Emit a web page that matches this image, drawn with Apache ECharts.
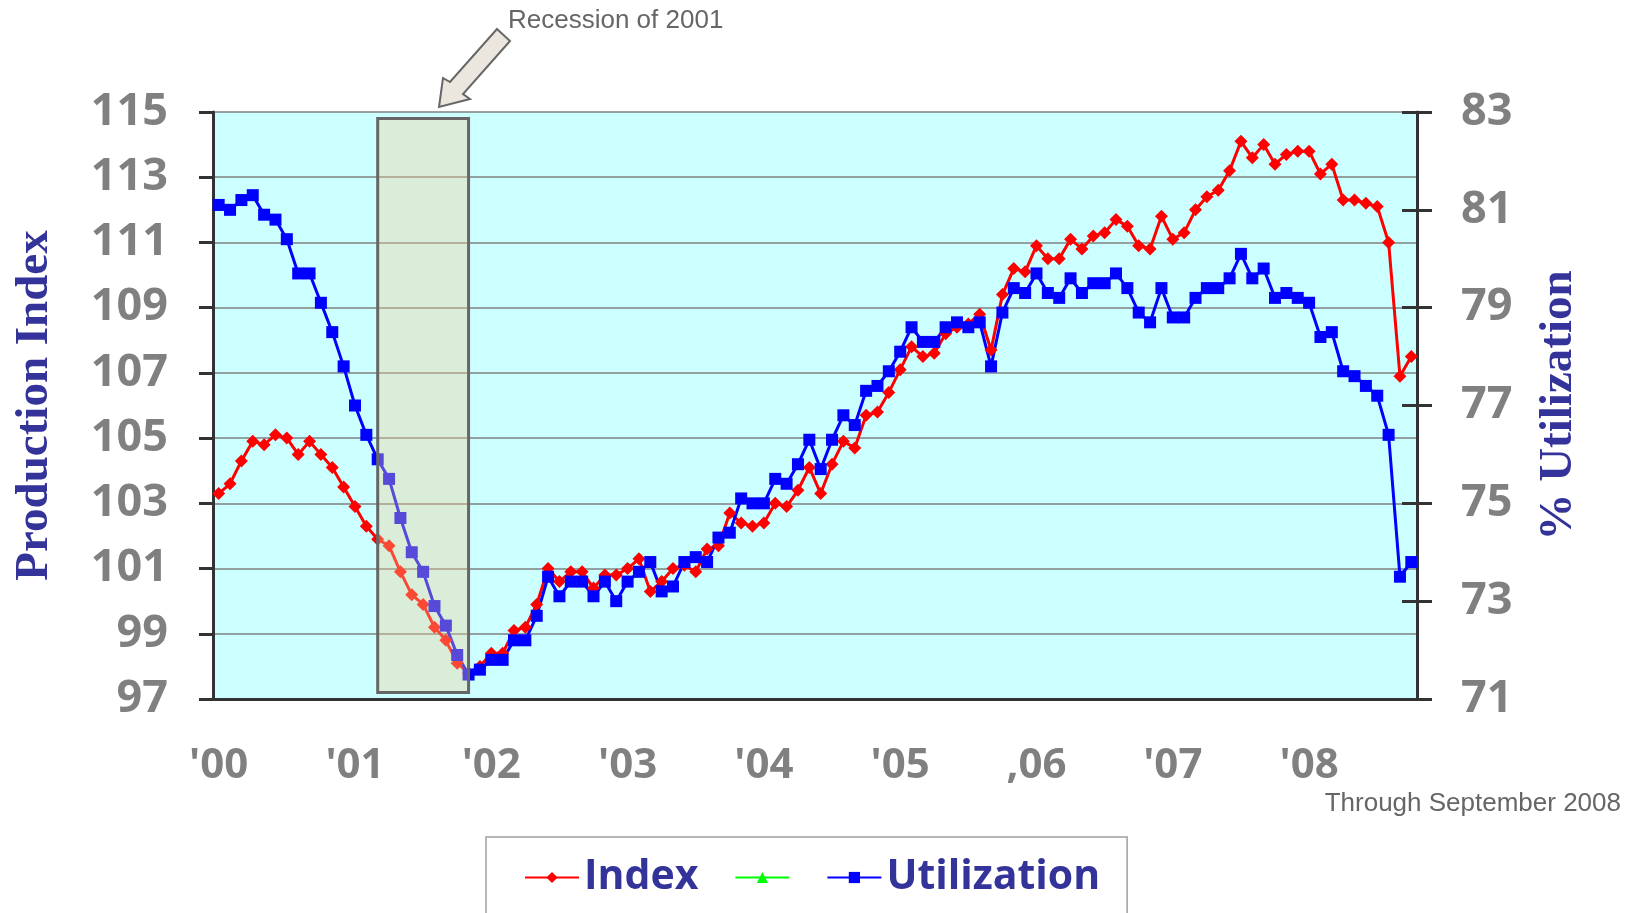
<!DOCTYPE html>
<html>
<head>
<meta charset="utf-8">
<script src="https://cdn.jsdelivr.net/npm/echarts@6/dist/echarts.min.js"></script>
<style>
  html, body { margin: 0; padding: 0; background: #fff; }
  #main { width: 1639px; height: 913px; }
</style>
</head>
<body>
<div id="main"></div>
<script>
// monthly, Jan 2000 .. Oct 2008
var months = [];
for (var y = 2000; y <= 2008; y++) {
    for (var m = 1; m <= 12; m++) {
        if (y === 2008 && m > 10) break;
        months.push(y + '-' + (m < 10 ? '0' + m : m));
    }
}

var yearLabels = ["'00", "'01", "'02", "'03", "'04", "'05", ",06", "'07", "'08"];
var indexTicks = [97, 99, 101, 103, 105, 107, 109, 111, 113, 115];
var utilTicks = [71, 73, 75, 77, 79, 81, 83];

var indexValues = [
    103.3, 103.6, 104.3, 104.9, 104.8, 105.1, 105.0, 104.5, 104.9, 104.5, 104.1, 103.5,
    102.9, 102.3, 101.9, 101.7, 100.9, 100.2, 99.9, 99.2, 98.8, 98.1, 97.8, 98.0,
    98.4, 98.4, 99.1, 99.2, 99.9, 101.0, 100.6, 100.9, 100.9, 100.4, 100.8, 100.8,
    101.0, 101.3, 100.3, 100.6, 101.0, 101.1, 100.9, 101.6, 101.7, 102.7, 102.4, 102.3,
    102.4, 103.0, 102.9, 103.4, 104.1, 103.3, 104.2, 104.9, 104.7, 105.7, 105.8, 106.4,
    107.1, 107.8, 107.5, 107.6, 108.2, 108.4, 108.5, 108.8, 107.7, 109.4, 110.2, 110.1,
    110.9, 110.5, 110.5, 111.1, 110.8, 111.2, 111.3, 111.7, 111.5, 110.9, 110.8, 111.8,
    111.1, 111.3, 112.0, 112.4, 112.6, 113.2, 114.1, 113.6, 114.0, 113.4, 113.7, 113.8,
    113.8, 113.1, 113.4, 112.3, 112.3, 112.2, 112.1, 111.0, 106.9, 107.5
];

var utilValues = [
    81.1, 81.0, 81.2, 81.3, 80.9, 80.8, 80.4, 79.7, 79.7, 79.1, 78.5, 77.8,
    77.0, 76.4, 75.9, 75.5, 74.7, 74.0, 73.6, 72.9, 72.5, 71.9, 71.5, 71.6,
    71.8, 71.8, 72.2, 72.2, 72.7, 73.5, 73.1, 73.4, 73.4, 73.1, 73.4, 73.0,
    73.4, 73.6, 73.8, 73.2, 73.3, 73.8, 73.9, 73.8, 74.3, 74.4, 75.1, 75.0,
    75.0, 75.5, 75.4, 75.8, 76.3, 75.7, 76.3, 76.8, 76.6, 77.3, 77.4, 77.7,
    78.1, 78.6, 78.3, 78.3, 78.6, 78.7, 78.6, 78.7, 77.8, 78.9, 79.4, 79.3,
    79.7, 79.3, 79.2, 79.6, 79.3, 79.5, 79.5, 79.7, 79.4, 78.9, 78.7, 79.4,
    78.8, 78.8, 79.2, 79.4, 79.4, 79.6, 80.1, 79.6, 79.8, 79.2, 79.3, 79.2,
    79.1, 78.4, 78.5, 77.7, 77.6, 77.4, 77.2, 76.4, 73.5, 73.8
];

// recession box: Mar 2001 .. Nov 2001
var recessionStart = '2001-03';
var recessionEnd = '2001-11';

var myChart = echarts.init(document.getElementById('main'));

var labelStyle = {
    fontFamily: 'Open Sans',
    fontWeight: 'bold',
    fontSize: 45,
    color: '#808080'
};
var nameStyle = {
    fontFamily: 'Liberation Serif',
    fontWeight: 'bold',
    fontSize: 47,
    color: '#333399'
};

option = {
    animation: false,
    grid: {
        left: 213,
        right: 222,
        top: 112,
        bottom: 214,
        show: true,
        backgroundColor: '#ccffff',
        borderWidth: 0
    },
    legend: {
        data: ['Index', ' ', 'Utilization'],
        left: 486,
        top: 837,
        padding: [20, 27, 60, 38],
        borderColor: '#a0a0a0',
        borderWidth: 1.5,
        itemGap: 36,
        itemWidth: 54,
        itemHeight: 14,
        formatter: function (name) { return name.trim() ? name : ''; },
        textStyle: {
            fontFamily: 'Open Sans',
            fontWeight: 'bold',
            fontSize: 41,
            color: '#333399'
        }
    },
    xAxis: {
        type: 'category',
        data: months,
        boundaryGap: true,
        axisLine: { lineStyle: { color: '#333', width: 3 } },
        axisTick: { interval: 0, length: 13, lineStyle: { color: '#333', width: 2 } },
        axisLabel: {
            interval: 11,
            margin: 46,
            fontFamily: 'Open Sans',
            fontWeight: 'bold',
            fontSize: 42,
            color: '#808080',
            formatter: function (v, idx) { return yearLabels[Math.round(idx / 12)]; }
        },
        splitLine: { show: false }
    },
    yAxis: [{
        type: 'value',
        position: 'left',
        min: 97,
        max: 115,
        name: 'Production Index',
        nameLocation: 'middle',
        nameRotate: 90,
        nameGap: 155,
        nameTextStyle: nameStyle,
        axisLine: { show: true, lineStyle: { color: '#333', width: 3 } },
        axisTick: { show: true, length: 14, customValues: indexTicks, lineStyle: { color: '#333', width: 3 } },
        axisLabel: Object.assign({ margin: 45, customValues: indexTicks }, labelStyle),
        splitLine: { show: true, lineStyle: { color: '#808080', width: 1.5 } }
    }, {
        type: 'value',
        position: 'right',
        min: 71,
        max: 83,
        name: '% Utilization',
        nameLocation: 'middle',
        nameRotate: 90,
        nameGap: 118,
        nameTextStyle: nameStyle,
        axisLine: { show: true, lineStyle: { color: '#333', width: 3 } },
        axisTick: { show: true, length: 15, customValues: utilTicks, lineStyle: { color: '#333', width: 3 } },
        axisLabel: Object.assign({ margin: 44, customValues: utilTicks }, labelStyle),
        splitLine: { show: false }
    }, {
        // inner half of the crossing ticks on the right axis
        type: 'value',
        position: 'right',
        min: 71,
        max: 83,
        axisLine: { show: false },
        axisTick: { show: true, inside: true, length: 15, customValues: utilTicks, lineStyle: { color: '#333', width: 3 } },
        axisLabel: { show: false, customValues: utilTicks },
        splitLine: { show: false }
    }],
    series: [{
        name: 'Index',
        type: 'line',
        yAxisIndex: 0,
        data: indexValues,
        color: '#ff0000',
        symbol: 'diamond',
        symbolSize: 13,
        showAllSymbol: true,
        lineStyle: { width: 3 }
    }, {
        name: ' ',
        type: 'line',
        yAxisIndex: 0,
        data: [],
        color: '#00ff00',
        symbol: 'triangle',
        symbolSize: 11,
        lineStyle: { width: 3 }
    }, {
        name: 'Utilization',
        type: 'line',
        yAxisIndex: 1,
        data: utilValues,
        color: '#0000ff',
        symbol: 'rect',
        symbolSize: 12,
        showAllSymbol: true,
        lineStyle: { width: 3 }
    }, {
        name: 'recession',
        type: 'line',
        yAxisIndex: 0,
        data: [],
        z: 10,
        markArea: {
            silent: true,
            z: 10,
            itemStyle: {
                color: 'rgba(240,205,150,0.36)',
                borderColor: '#666',
                borderWidth: 3
            },
            data: [[
                { xAxis: recessionStart, yAxis: 114.8 },
                { xAxis: recessionEnd, yAxis: 97.2 }
            ]]
        }
    }],
    graphic: [{
        type: 'polygon',
        shape: {
            points: [[497, 29], [510, 41], [463, 94], [470, 99], [439, 107], [443, 78], [450, 82]]
        },
        style: { fill: '#ebe7df', stroke: '#666', lineWidth: 2 },
        z: 20
    }, {
        type: 'text',
        x: 508,
        y: 21,
        style: {
            text: 'Recession of 2001',
            font: '26px "Liberation Sans"',
            fill: '#666',
            verticalAlign: 'middle'
        },
        z: 20
    }, {
        type: 'text',
        x: 1621,
        y: 804,
        style: {
            text: 'Through September 2008',
            font: '26px "Liberation Sans"',
            fill: '#666',
            align: 'right',
            verticalAlign: 'middle'
        },
        z: 20
    }]
};
myChart.setOption(option);
</script>
</body>
</html>
